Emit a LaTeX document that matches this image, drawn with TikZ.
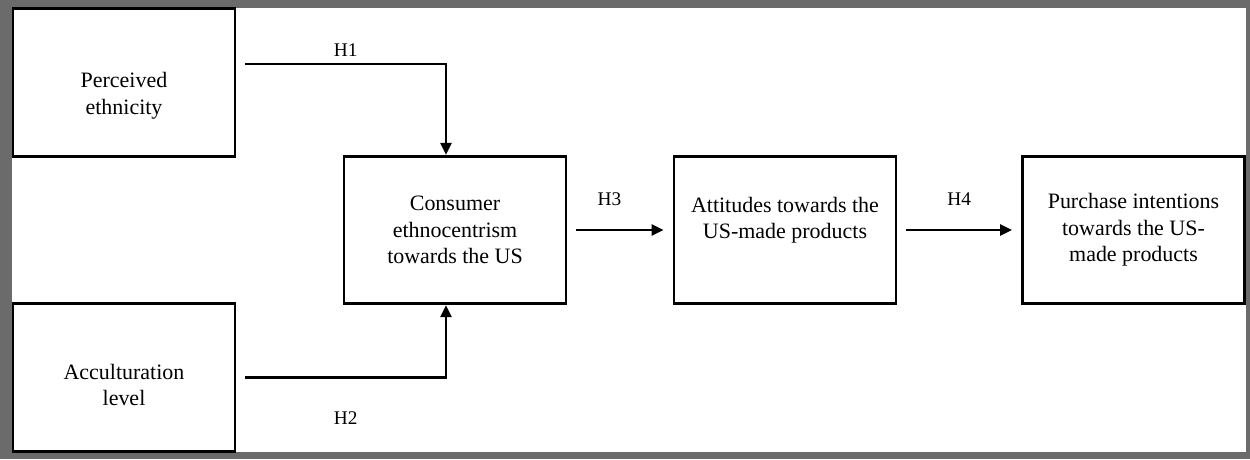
\documentclass[tikz,border=0pt]{standalone}
\usepackage{fontspec}
\setmainfont{Liberation Serif}
\usepackage{tikz}
\usetikzlibrary{arrows.meta, positioning, calc}

\begin{document}
\begin{tikzpicture}
    \tikzstyle{every node} = [font=\fontsize{12.5}{15}\selectfont]
    \tikzstyle{block} = [draw, rectangle, line width=1.6pt, fill=white, align=center, minimum width=4.44cm, minimum height=2.95cm]
    \tikzstyle{link} = [line width=1.4pt, -{Triangle[length=0.24cm,width=0.22cm]}]
    \tikzstyle{hyp} = [font=\fontsize{11}{13}\selectfont]

    % frame
    \fill[black!58] (0,0) rectangle (25,-9.18);
    \fill[white] (0.24,-0.16) rectangle (24.91,-9.04);
    \useasboundingbox (0,0) rectangle (25,-9.18);

    % place nodes
    \node[block,text height=39pt,text depth=3pt](perceivedEthnicity) at (2.48,-1.65){Perceived\\ethnicity};
    \node[block,text height=35pt,text depth=3pt](acculturationLevel) at (2.48,-7.55){Acculturation\\level};
    \node[block](consumerEthno) at (9.10,-4.60){Consumer\\ethnocentrism\\towards the US};
    \node[block,text height=24pt,text depth=14.4pt](attitudesUS) at (15.70,-4.60){Attitudes towards the\\US-made products};
    \node[block](purchaseIntent) at (22.67,-4.60){Purchase intentions\\towards the US-\\made products};

    % Connections
    \draw[link]
    (perceivedEthnicity.east)++(0.18,0.37) -| node[pos=0.25,above,hyp]{H1} ([xshift=-0.18cm]consumerEthno.north);
    \draw[link]
    (acculturationLevel.east)++(0.18,0) -| node[pos=0.25,below=0.55cm,hyp]{H2} ([xshift=-0.18cm]consumerEthno.south);
    \draw[link,shorten <=0.18cm,shorten >=0.18cm]
    (consumerEthno)--node[pos=0.4,above=0.35cm,hyp]{H3}(attitudesUS);
    \draw[link,shorten <=0.18cm,shorten >=0.18cm]
    (attitudesUS)--node[pos=0.5,above=0.35cm,hyp]{H4}(purchaseIntent);

  \end{tikzpicture}
\end{document}
